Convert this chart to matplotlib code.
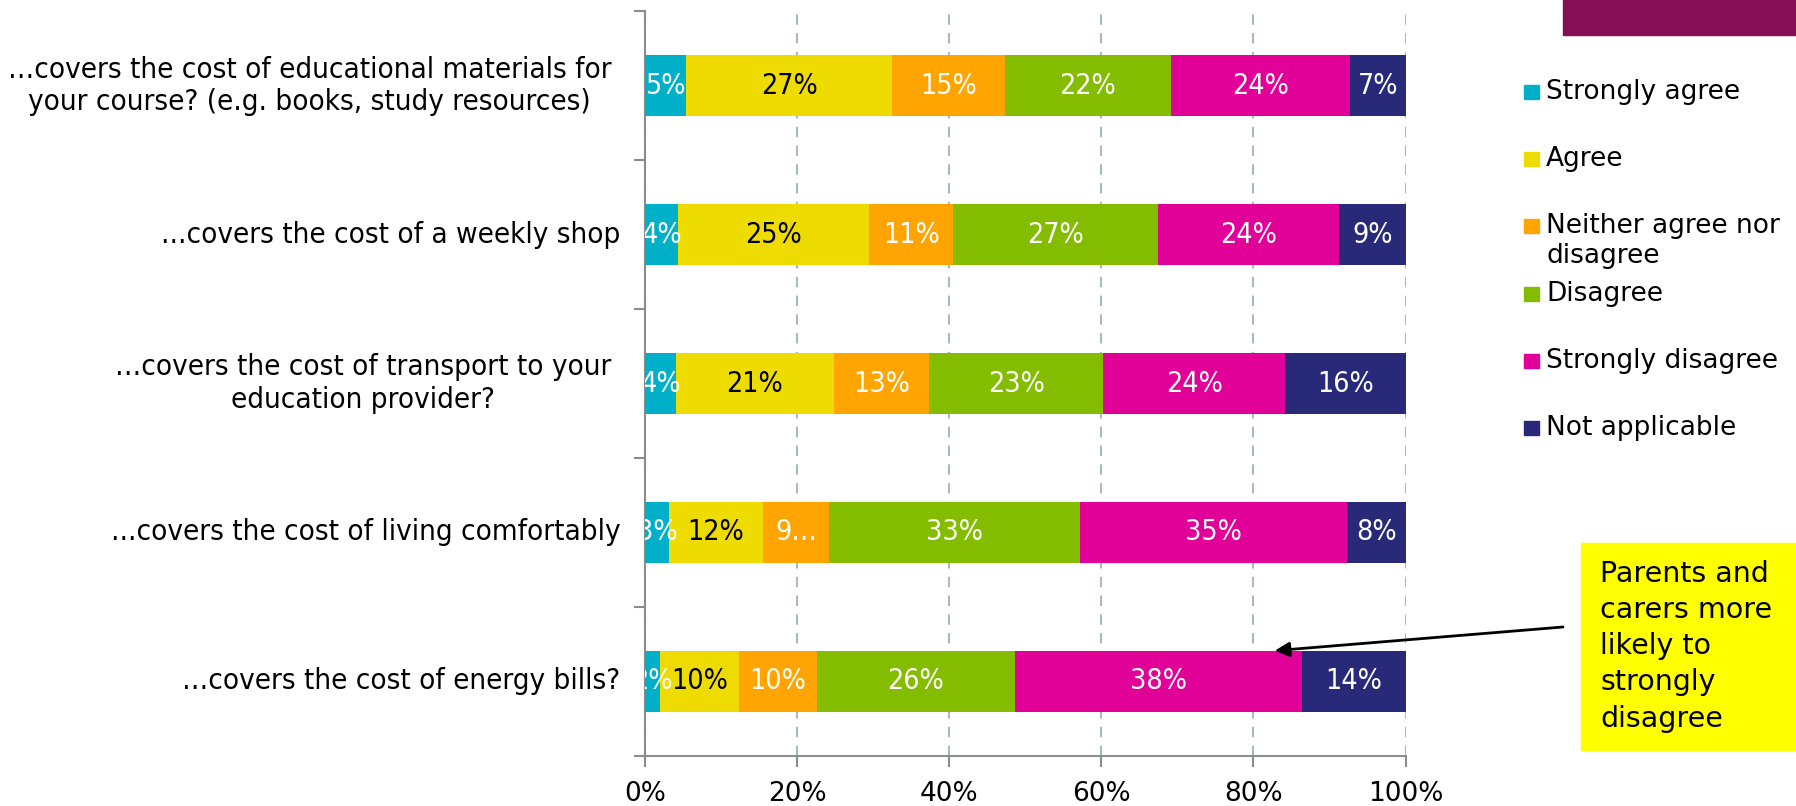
import matplotlib
matplotlib.use("Agg")
import matplotlib.pyplot as plt
from matplotlib import font_manager
from matplotlib.patches import Rectangle

# Survey statements (top to bottom)
statements = [
    "\u2026covers the cost of educational materials for\nyour course? (e.g. books, study resources)",
    "...covers the cost of a weekly shop",
    "\u2026covers the cost of transport to your\neducation provider?",
    "...covers the cost of living comfortably",
    "\u2026covers the cost of energy bills?",
]

responses = ["Strongly agree", "Agree", "Neither agree nor\ndisagree",
             "Disagree", "Strongly disagree", "Not applicable"]

# percentage of respondents per response, one list per response
strongly_agree = [5.4, 4.4, 4.1, 3.2, 2.0]
agree = [27.1, 25.1, 20.7, 12.3, 10.4]
neither = [14.8, 11.0, 12.6, 8.7, 10.2]
disagree = [21.8, 27.0, 22.8, 33.0, 26.0]
strongly_disagree = [23.6, 23.8, 24.0, 35.1, 37.8]
not_applicable = [7.3, 8.7, 15.8, 7.7, 13.6]

series = [strongly_agree, agree, neither, disagree, strongly_disagree, not_applicable]
colors = ["#00B0C9", "#EEDC00", "#FFA400", "#84BD00", "#E10098", "#29297A"]
text_colors = ["white", "black", "white", "white", "white", "white"]

x_ticks = [0, 20, 40, 60, 80, 100]

callout = "Parents and\ncarers more\nlikely to\nstrongly\ndisagree"

# narrow face for the category and bar labels, if one is installed
narrow = font_manager.FontProperties(family="DejaVu Sans", stretch="condensed")
narrow_path = font_manager.findfont(narrow)
if "Condensed" in narrow_path:
    narrow_family = font_manager.FontProperties(fname=narrow_path).get_name()
    narrow_kw = dict(family=narrow_family, stretch="condensed")
    cat_size, bar_size = 21.2, 20.5
else:
    narrow_kw = dict(family="DejaVu Sans")
    cat_size, bar_size = 19.2, 18.5

fig = plt.figure(figsize=(17.96, 8.06), dpi=100)
ax = fig.add_axes([0.3591, 0.0625, 0.4235, 0.9233])

y = list(range(len(statements)))
left = [0.0] * len(statements)
for vals, col, tcol in zip(series, colors, text_colors):
    ax.barh(y, vals, left=left, height=0.41, color=col, zorder=3)
    for i, v in enumerate(vals):
        label = f"{v:.0f}%"
        # labels that do not fit a middle segment get cut short
        if v < 9 and col not in (colors[0], colors[-1]):
            label = label[:-1] + "\u2026"
        t = ax.text(left[i] + v / 2, i, label, ha="center", va="center",
                    color=tcol, fontsize=bar_size, zorder=4, **narrow_kw)
        t.set_clip_on(True)
    left = [l + v for l, v in zip(left, vals)]

ax.set_xlim(0, 100)
ax.set_ylim(len(statements) - 0.5, -0.5)
ax.set_xticks(x_ticks)
ax.set_xticklabels([f"{t}%" for t in x_ticks], fontsize=19, family="DejaVu Sans")
ax.set_yticks([i - 0.5 for i in range(len(statements) + 1)])
ax.set_yticklabels([])
ax.tick_params(axis="both", direction="out", length=8, width=1.5, color="#8C8C8C")
ax.tick_params(axis="x", pad=10)

for i, s in enumerate(statements):
    # wrapped labels sit a little further from the axis
    offset = -4.4 if "\n" in s else -3.2
    ax.text(offset, i, s, ha="right", va="center", multialignment="center",
            fontsize=cat_size, color="black", transform=ax.transData, **narrow_kw)

ax.xaxis.grid(True, linestyle=(0, (5, 4)), color="#A9BABA", linewidth=1.5, zorder=0)
ax.set_axisbelow(True)
for side in ("top", "right"):
    ax.spines[side].set_visible(False)
for side in ("left", "bottom"):
    ax.spines[side].set_color("#8C8C8C")
    ax.spines[side].set_linewidth(1.5)

# legend drawn as a column of squares and labels
for k, (name, col) in enumerate(zip(responses, colors)):
    yc = 1 - (92 + k * 67.2) / 806
    fig.patches.append(Rectangle((1524 / 1796, yc - 7 / 806), 15 / 1796, 14 / 806,
                                 transform=fig.transFigure, color=col))
    fig.text(1546 / 1796, yc + 13 / 806, name, ha="left", va="top", fontsize=19,
             family="DejaVu Sans", linespacing=1.2)

# banner strip in the corner
fig.patches.append(Rectangle((1563 / 1796, 1 - 35 / 806), 233 / 1796, 35 / 806,
                             transform=fig.transFigure, color="#850E55"))

# yellow call-out box with arrow into the energy bills bar
fig.patches.append(Rectangle((1581 / 1796, 1 - 750 / 806), 215 / 1796, 207 / 806,
                             transform=fig.transFigure, color="#FFFF00", zorder=1))
fig.text(1600 / 1796, 1 - 560 / 806, callout, ha="left", va="top", fontsize=20.5,
         family="DejaVu Sans", linespacing=1.37, zorder=2)
ax.annotate("", xy=(82.8, 4 - 0.205), xycoords="data",
            xytext=(1563 / 1796, 1 - 627 / 806), textcoords="figure fraction",
            arrowprops=dict(arrowstyle="-|>", color="black", lw=2,
                            mutation_scale=22, shrinkA=0, shrinkB=0),
            annotation_clip=False, zorder=5)

fig.savefig("out.png", dpi=100)
